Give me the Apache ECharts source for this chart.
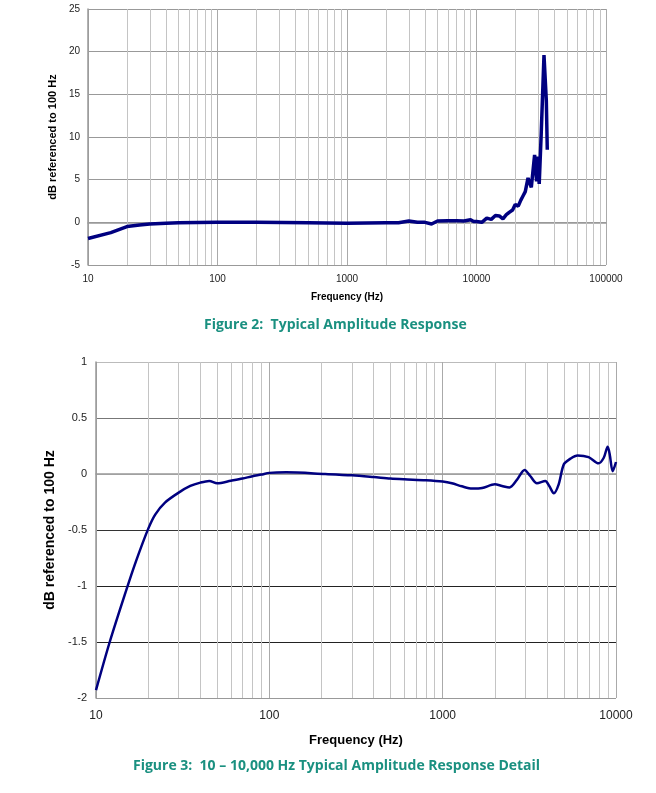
<!DOCTYPE html>
<html>
<head>
<meta charset="utf-8">
<script src="https://cdn.jsdelivr.net/npm/echarts@6/dist/echarts.min.js"></script>
<style>
html,body{margin:0;padding:0;background:#fff;}
#main{width:656px;height:793px;}
</style>
</head>
<body>
<div id="main"></div>
<script>
// Figure 2 : full range
var freqTop = [10, 15, 20, 25, 30, 40, 50, 70, 100, 200, 500, 1000, 2000, 2500, 3000, 3500, 4000, 4500, 5000, 6000, 7000, 8000, 9000, 9500, 10000, 11000, 12000, 13000, 14000, 15000, 16000, 17000, 18000, 19000, 19900, 21000, 22000, 22700, 23800, 25000, 26500, 28100, 29100, 29600, 30500, 31600, 33200, 34000, 34600, 35200];
var dbTop   = [-1.9, -1.2, -0.5, -0.3, -0.2, -0.1, -0.05, -0.02, 0, 0, -0.05, -0.1, -0.05, -0.05, 0.15, 0, 0, -0.2, 0.15, 0.2, 0.2, 0.15, 0.3, 0.1, 0.1, 0, 0.5, 0.35, 0.8, 0.75, 0.4, 0.9, 1.2, 1.45, 2.1, 1.9, 2.6, 3.0, 3.6, 5.2, 4.1, 7.9, 4.8, 7.7, 4.5, 10.4, 19.6, 19.6, 14.3, 8.5];
// Figure 3 : detail
var freqBot = [10, 12, 15, 17, 20, 22, 25, 30, 35, 40, 45, 50, 60, 70, 80, 90, 100, 125, 210, 300, 400, 500, 600, 800, 1000, 1130, 1290, 1480, 1690, 2000, 2200, 2430, 2680, 2970, 3200, 3500, 3910, 4120, 4380, 4670, 5000, 5460, 6000, 6950, 7930, 8500, 8950, 9200, 9570, 10000];
var dbBot   = [-1.93, -1.5, -1.03, -0.78, -0.49, -0.36, -0.255, -0.166, -0.107, -0.077, -0.062, -0.083, -0.06, -0.04, -0.02, -0.005, 0.01, 0.015, 0, -0.012, -0.027, -0.04, -0.047, -0.056, -0.068, -0.083, -0.11, -0.13, -0.125, -0.092, -0.107, -0.12, -0.053, 0.036, -0.018, -0.083, -0.062, -0.107, -0.172, -0.092, 0.086, 0.137, 0.166, 0.151, 0.095, 0.145, 0.243, 0.175, 0.024, 0.107];

var minorTop = [20,30,40,50,60,70,80,90,200,300,400,500,600,700,800,900,2000,3000,4000,5000,6000,7000,8000,9000,20000,30000,40000,50000,60000,70000,80000,90000];
var minorBot = [20,30,40,50,60,70,80,90,200,300,400,500,600,700,800,900,2000,3000,4000,5000,6000,7000,8000,9000];

function pairs(xs, ys){
	var out = [];
	for (var i = 0; i < xs.length; i++) out.push([xs[i], ys[i]]);
	return out;
}
function minorLines(list, color){
	return {
		silent : true,
		symbol : ['none','none'],
		label : { show : false },
		lineStyle : { color : color, width : 1, type : 'solid' },
		emphasis : { disabled : true },
		animation : false,
		data : list.map(function(v){ return { xAxis : v }; })
	};
}
var font = '"Liberation Sans", Arial, sans-serif';
var logLabel = function(v){ return String(Math.round(v)); };

var chart = echarts.init(document.getElementById('main'));
var option = {
	animation : false,
	textStyle : { fontFamily : font },
	grid : [
		{ left : 88, top : 9, width : 518, height : 256 },
		{ left : 96, top : 362, width : 520, height : 336 }
	],
	xAxis : [{
		gridIndex : 0, type : 'log', logBase : 10, min : 10, max : 100000,
		name : 'Frequency (Hz)', nameLocation : 'middle', nameGap : 27,
		nameTextStyle : { fontWeight : 'bold', fontSize : 10, color : '#000', fontFamily : font },
		axisLine : { lineStyle : { color : '#999', width : 1.5 } },
		axisTick : { show : false },
		axisLabel : { formatter : logLabel, fontSize : 10, color : '#222', margin : 9, fontFamily : font },
		splitLine : { show : true, lineStyle : { color : '#aaa', width : 1 } }
	}, {
		gridIndex : 1, type : 'log', logBase : 10, min : 10, max : 10000,
		name : 'Frequency (Hz)', nameLocation : 'middle', nameGap : 36,
		nameTextStyle : { fontWeight : 'bold', fontSize : 13, color : '#000', fontFamily : font },
		axisLine : { lineStyle : { color : '#999', width : 1.5 } },
		axisTick : { show : false },
		axisLabel : { formatter : logLabel, fontSize : 12, color : '#222', margin : 12, fontFamily : font },
		splitLine : { show : true, lineStyle : { color : '#aaa', width : 1 } }
	}],
	yAxis : [{
		gridIndex : 0, type : 'value', min : -5, max : 25, interval : 5,
		name : 'dB referenced to 100 Hz', nameLocation : 'middle', nameGap : 28,
		nameTextStyle : { fontWeight : 'bold', fontSize : 11, color : '#000', fontFamily : font },
		axisLine : { show : true, lineStyle : { color : '#999', width : 1.5 } },
		axisTick : { show : false },
		axisLabel : { fontSize : 10, color : '#222', margin : 8, fontFamily : font },
		splitLine : { show : true, lineStyle : { color : '#999', width : 1 } }
	}, {
		gridIndex : 1, type : 'value', min : -2, max : 1, interval : 0.5,
		name : 'dB referenced to 100 Hz', nameLocation : 'middle', nameGap : 36,
		nameTextStyle : { fontWeight : 'bold', fontSize : 14, color : '#000', fontFamily : font },
		axisLine : { show : true, lineStyle : { color : '#999', width : 1.5 } },
		axisTick : { show : false },
		axisLabel : { fontSize : 11, color : '#222', margin : 9, fontFamily : font },
		splitLine : { show : true, lineStyle : { color : ['#999', '#222', '#222', '#333', '#bbb', '#777', '#bbb'], width : 1 } }
	}],
	series : [{
		type : 'line', xAxisIndex : 0, yAxisIndex : 0, data : pairs(freqTop, dbTop),
		symbol : 'none', lineStyle : { color : '#000080', width : 3.5 }, z : 5,
		markLine : minorLines(minorTop, '#c4c4c4')
	}, {
		type : 'line', xAxisIndex : 1, yAxisIndex : 1, data : pairs(freqBot, dbBot),
		symbol : 'none', smooth : 0.3, lineStyle : { color : '#000080', width : 2.5 }, z : 5,
		markLine : minorLines(minorBot, '#c4c4c4')
	}],
	graphic : [{
		type : 'text', left : 204, top : 318,
		style : { text : 'Figure 2:  Typical Amplitude Response', fill : '#1a9080', font : 'bold 14px "Open Sans", sans-serif' }
	}, {
		type : 'text', left : 133, top : 759,
		style : { text : 'Figure 3:  10 \u2013 10,000 Hz Typical Amplitude Response Detail', fill : '#1a9080', font : 'bold 14px "Open Sans", sans-serif' }
	}]
};
chart.setOption(option);
</script>
</body>
</html>
